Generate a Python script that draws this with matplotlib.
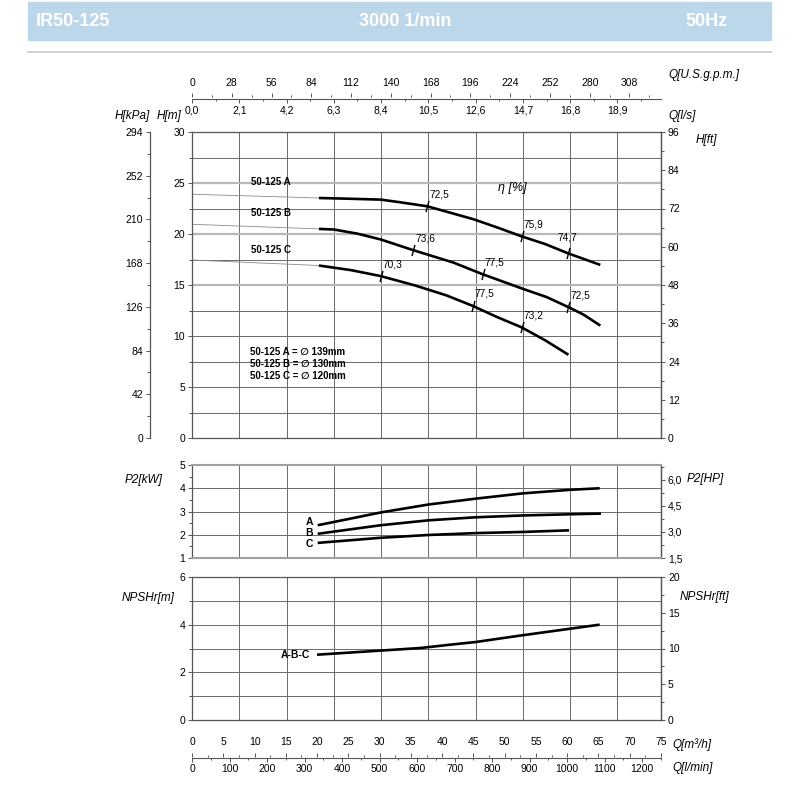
import matplotlib
matplotlib.use("Agg")
import matplotlib.pyplot as plt
from matplotlib.path import Path
from matplotlib.patches import Rectangle
from matplotlib.lines import Line2D
from matplotlib.ticker import MultipleLocator, FuncFormatter

plt.rcParams['font.family'] = ['Liberation Sans', 'DejaVu Sans']

# ---------------- data ----------------
# Head curves (Q in m3/h, H in m)
q_A = [20.3, 25.0, 30.2, 33.4, 37.6, 41.4, 45.0, 49.0, 52.7, 56.5, 60.2, 65.3]
h_A = [23.53, 23.46, 23.37, 23.10, 22.72, 22.07, 21.45, 20.60, 19.77, 19.01, 18.09, 16.97]
q_B = [20.3, 22.7, 26.4, 30.2, 35.4, 41.8, 46.5, 52.7, 56.7, 60.2, 62.6, 65.3]
h_B = [20.50, 20.44, 20.04, 19.46, 18.41, 17.20, 16.05, 14.67, 13.82, 12.83, 12.10, 11.02]
q_C = [20.3, 25.4, 30.2, 35.7, 40.7, 44.9, 48.7, 52.7, 56.5, 60.2]
h_C = [16.91, 16.46, 15.87, 14.95, 13.98, 12.95, 11.88, 10.85, 9.57, 8.16]

# thin lines towards zero flow
q_ext = [0.0, 20.3]
hA_ext = [23.90, 23.53]
hB_ext = [20.95, 20.50]
hC_ext = [17.45, 16.91]

curve_names = ['50-125 A', '50-125 B', '50-125 C']
diam_lines = ['50-125 A = \u2205 139mm', '50-125 B = \u2205 130mm', '50-125 C = \u2205 120mm']

# efficiency points
eta_A_q = [37.6, 52.7, 60.2]
eta_A_h = [22.72, 19.77, 18.09]
eta_A_lbl = ['72,5', '75,9', '74,7']
eta_B_q = [35.4, 46.5, 60.2]
eta_B_h = [18.41, 16.05, 12.83]
eta_B_lbl = ['73,6', '77,5', '72,5']
eta_C_q = [30.2, 44.9, 52.7]
eta_C_h = [15.87, 12.95, 10.85]
eta_C_lbl = ['70,3', '77,5', '73,2']

# power P2 [kW]
p2_A_q = [20.1, 22.7, 30.2, 37.8, 45.3, 52.9, 60.3, 65.2]
p2_A = [2.41, 2.55, 2.96, 3.30, 3.55, 3.78, 3.93, 4.00]
p2_B_q = [20.1, 30.2, 37.8, 45.3, 52.9, 60.3, 65.4]
p2_B = [2.04, 2.41, 2.62, 2.75, 2.83, 2.88, 2.91]
p2_C_q = [20.1, 30.2, 37.8, 45.3, 52.9, 60.3]
p2_C = [1.65, 1.87, 1.99, 2.07, 2.12, 2.19]

# NPSHr [m]
npsh_q = [20.0, 30.0, 36.5, 41.3, 45.3, 52.7, 65.2]
npsh = [2.74, 2.91, 3.02, 3.16, 3.27, 3.55, 4.00]

# axis ticks
ls_ticks = [0.0, 2.1, 4.2, 6.3, 8.4, 10.5, 12.6, 14.7, 16.8, 18.9]
gpm_ticks = [0, 28, 56, 84, 112, 140, 168, 196, 224, 252, 280, 308]
m3h_ticks = list(range(0, 80, 5))
lmin_ticks = list(range(0, 1300, 100))
h_m_ticks = [0, 5, 10, 15, 20, 25, 30]
kpa_ticks = [0, 42, 84, 126, 168, 210, 252, 294]
ft_ticks = [0, 12, 24, 36, 48, 60, 72, 84, 96]
kw_ticks = [1, 2, 3, 4, 5]
hp_ticks = [1.5, 3.0, 4.5, 6.0]
npsh_m_ticks = [0, 2, 4, 6]
npsh_ft_ticks = [0, 5, 10, 15, 20]

# ---------------- figure ----------------
W = H = 800
fig = plt.figure(figsize=(8, 8), dpi=100)


def rect(x0, y0, x1, y1):
    return [x0 / W, 1 - y1 / H, (x1 - x0) / W, (y1 - y0) / H]


def ftext(x, y, s, **kw):
    kw.setdefault('va', 'center')
    fig.text(x / W, 1 - y / H, s, **kw)


comma1 = FuncFormatter(lambda v, p: f"{v:.1f}".replace('.', ','))
intfmt = FuncFormatter(lambda v, p: f"{v:.0f}")

# header band
fig.patches.append(Rectangle((28 / W, 1 - 40 / H), (771 - 28) / W, 38 / H,
                             transform=fig.transFigure, color='#bdd7ea', zorder=0))
fig.add_artist(Line2D([28 / W, 771 / W], [1 - 52 / H] * 2, transform=fig.transFigure,
                      color='#c8c8c8', lw=1.2))
ftext(36, 21, 'IR50-125', color='white', fontsize=13, fontweight='bold', ha='left')
ftext(405, 21, '3000 1/min', color='white', fontsize=13, fontweight='bold', ha='center')
ftext(728, 21, '50Hz', color='white', fontsize=13, fontweight='bold', ha='right')

QMAX = 75.0
vgrid = [v * 3.6 for v in ls_ticks[1:]]
DARK = '#6a6a6a'
SP = '#555555'
TS = 7.5
LS = 8.5


def style_panel(ax, ylim, hgrid, light=()):
    ax.set_xlim(0, QMAX)
    ax.set_ylim(*ylim)
    for x in vgrid:
        ax.axvline(x, color=DARK, lw=0.7, zorder=1)
    for y in hgrid:
        if y in light:
            ax.axhline(y, color='#b8b8b8', lw=1.6, zorder=1)
        else:
            ax.axhline(y, color=DARK, lw=0.7, zorder=1)
    ax.set_xticks([])
    for s in ax.spines.values():
        s.set_color(SP)
        s.set_linewidth(0.9)
    ax.tick_params(axis='y', which='both', direction='out', color=SP, labelsize=TS, pad=2, width=0.7)
    ax.tick_params(axis='y', which='major', length=3)
    ax.tick_params(axis='y', which='minor', length=2)


def sec_y(ax, loc, f, finv, ticks, minor, fmt):
    s = ax.secondary_yaxis(loc, functions=(f, finv))
    s.set_yticks(ticks)
    s.yaxis.set_minor_locator(MultipleLocator(minor))
    s.yaxis.set_major_formatter(fmt)
    s.tick_params(which='both', direction='out', color=SP, labelsize=TS, pad=2, width=0.7)
    s.tick_params(which='major', length=3)
    s.tick_params(which='minor', length=2)
    for sp in s.spines.values():
        sp.set_color(SP)
        sp.set_linewidth(0.9)
    return s


# ---------------- main H-Q panel ----------------
ax = fig.add_axes(rect(192, 132, 661, 438))
style_panel(ax, (0, 30), [2.5 * i for i in range(1, 12)], light=(15.0, 20.0, 25.0))
ax.set_yticks(h_m_ticks)
ax.yaxis.set_minor_locator(MultipleLocator(2.5))
ax.yaxis.set_major_formatter(intfmt)

sec_y(ax, -0.0896, lambda m: m * 9.8, lambda k: k / 9.8, kpa_ticks, 21, intfmt)
sec_y(ax, 'right', lambda m: m * 3.2, lambda f: f / 3.2, ft_ticks, 6, intfmt)

for hx in (hA_ext, hB_ext, hC_ext):
    ax.plot(q_ext, hx, color='#8a8a8a', lw=0.6, zorder=2)
for qq, hh in ((q_A, h_A), (q_B, h_B), (q_C, h_C)):
    ax.plot(qq, hh, color='black', lw=1.9, zorder=3, solid_capstyle='butt', solid_joinstyle='round')

tick_marker = Path([(-0.27, -1.0), (0.27, 1.0)], [Path.MOVETO, Path.LINETO])
for eq, eh, el in ((eta_A_q, eta_A_h, eta_A_lbl), (eta_B_q, eta_B_h, eta_B_lbl),
                   (eta_C_q, eta_C_h, eta_C_lbl)):
    ax.plot(eq, eh, ls='none', marker=tick_marker, markersize=8, mew=1.0,
            color='black', zorder=4)
    for q, h, lbl in zip(eq, eh, el):
        off = (2, 12)
        if lbl == '74,7' and h > 16:
            off = (-11, 16)
        ax.annotate(lbl, (q, h), xytext=off, textcoords='offset pixels',
                    ha='left', va='center', fontsize=7.3, zorder=5)

ftext(251, 182, curve_names[0], fontsize=7, fontweight='bold', ha='left')
ftext(251, 213, curve_names[1], fontsize=7, fontweight='bold', ha='left')
ftext(251, 250, curve_names[2], fontsize=7, fontweight='bold', ha='left')
for i, s in enumerate(diam_lines):
    ftext(250, 352 + 12 * i, s, fontsize=7, fontweight='bold', ha='left')
ftext(498, 188, '\u03b7 [%]', fontsize=9, style='italic', ha='left')

ftext(150, 116, 'H[kPa]', fontsize=LS, style='italic', ha='right')
ftext(157, 116, 'H[m]', fontsize=LS, style='italic', ha='left')
ftext(696, 140, 'H[ft]', fontsize=LS, style='italic', ha='left')

# ---------------- top flow axis ----------------
axT = fig.add_axes(rect(192, 97.5, 661, 98.5))
axT.set_xlim(0, QMAX / 3.6)
axT.set_yticks([])
for k in ('left', 'right', 'top'):
    axT.spines[k].set_visible(False)
axT.spines['bottom'].set_color(SP)
axT.set_xticks(ls_ticks)
axT.xaxis.set_major_formatter(comma1)
axT.xaxis.set_minor_locator(MultipleLocator(1.05))
axT.tick_params(axis='x', which='both', direction='out', color=SP, labelsize=TS, pad=2, width=0.7)
axT.tick_params(axis='x', which='major', length=3)
axT.tick_params(axis='x', which='minor', length=1.5)
sT = axT.secondary_xaxis('top', functions=(lambda l: l * 15.85, lambda g: g / 15.85))
sT.set_xticks(gpm_ticks)
sT.xaxis.set_major_formatter(intfmt)
sT.xaxis.set_minor_locator(MultipleLocator(14))
sT.spines['top'].set_visible(False)
sT.tick_params(axis='x', which='both', direction='out', color=SP, labelsize=TS, pad=4, width=0.7)
sT.tick_params(axis='x', which='major', length=3)
sT.tick_params(axis='x', which='minor', length=1.5)
ftext(668, 75, 'Q[U.S.g.p.m.]', fontsize=LS, style='italic', ha='left')
ftext(668, 116, 'Q[l/s]', fontsize=LS, style='italic', ha='left')

# ---------------- P2 panel ----------------
axP = fig.add_axes(rect(192, 465, 661, 558))
style_panel(axP, (1, 5), [2, 3, 4])
axP.spines['top'].set_color('#a0a0a0')
axP.spines['top'].set_linewidth(1.5)
axP.spines['bottom'].set_color('#a0a0a0')
axP.spines['bottom'].set_linewidth(1.5)
axP.set_yticks(kw_ticks)
axP.yaxis.set_minor_locator(MultipleLocator(0.5))
axP.yaxis.set_major_formatter(intfmt)
sec_y(axP, 'right', lambda kw: 1.5 + (kw - 1) * 1.341, lambda hp: 1 + (hp - 1.5) / 1.341,
      hp_ticks, 0.75, comma1)
for qq, pp in ((p2_A_q, p2_A), (p2_B_q, p2_B), (p2_C_q, p2_C)):
    axP.plot(qq, pp, color='black', lw=1.9, zorder=3, solid_capstyle='butt', solid_joinstyle='round')
ftext(309, 522, 'A', fontsize=7.5, fontweight='bold', ha='center')
ftext(309, 533, 'B', fontsize=7.5, fontweight='bold', ha='center')
ftext(309, 544, 'C', fontsize=7.5, fontweight='bold', ha='center')
ftext(163, 480, 'P2[kW]', fontsize=LS, style='italic', ha='right')
ftext(687, 479, 'P2[HP]', fontsize=LS, style='italic', ha='left')

# ---------------- NPSH panel ----------------
axN = fig.add_axes(rect(192, 577, 661, 720))
style_panel(axN, (0, 6), [1, 2, 3, 4, 5])
axN.set_yticks(npsh_m_ticks)
axN.yaxis.set_minor_locator(MultipleLocator(1))
axN.yaxis.set_major_formatter(intfmt)
sec_y(axN, 'right', lambda m: m * 10 / 3, lambda f: f * 0.3, npsh_ft_ticks, 2.5, intfmt)
axN.plot(npsh_q, npsh, color='black', lw=1.9, zorder=3, solid_capstyle='butt', solid_joinstyle='round')
ftext(310, 655, 'A-B-C', fontsize=7.5, fontweight='bold', ha='right')
ftext(122, 598, 'NPSHr[m]', fontsize=LS, style='italic', ha='left')
ftext(680, 597, 'NPSHr[ft]', fontsize=LS, style='italic', ha='left')

# ---------------- bottom flow axis ----------------
axB = fig.add_axes(rect(192, 756.5, 661, 757.5))
axB.set_xlim(0, QMAX)
axB.set_yticks([])
for k in ('left', 'right', 'top'):
    axB.spines[k].set_visible(False)
axB.spines['bottom'].set_color(SP)
axB.xaxis.tick_top()
axB.set_xticks(m3h_ticks)
axB.xaxis.set_major_formatter(intfmt)
axB.xaxis.set_minor_locator(MultipleLocator(2.5))
axB.tick_params(axis='x', which='both', direction='out', color=SP, labelsize=TS, pad=4, width=0.7)
axB.tick_params(axis='x', which='major', length=3)
axB.tick_params(axis='x', which='minor', length=1.5)
sB = axB.secondary_xaxis('bottom', functions=(lambda q: q * 1000 / 60, lambda l: l * 60 / 1000))
sB.set_xticks(lmin_ticks)
sB.xaxis.set_major_formatter(intfmt)
sB.xaxis.set_minor_locator(MultipleLocator(50))
sB.spines['bottom'].set_visible(False)
sB.tick_params(axis='x', which='both', direction='out', color=SP, labelsize=TS, pad=2, width=0.7)
sB.tick_params(axis='x', which='major', length=3)
sB.tick_params(axis='x', which='minor', length=1.5)
ftext(672, 745, 'Q[m\u00b3/h]', fontsize=LS, style='italic', ha='left')
ftext(672, 768, 'Q[l/min]', fontsize=LS, style='italic', ha='left')

fig.savefig('out.png', dpi=100)
